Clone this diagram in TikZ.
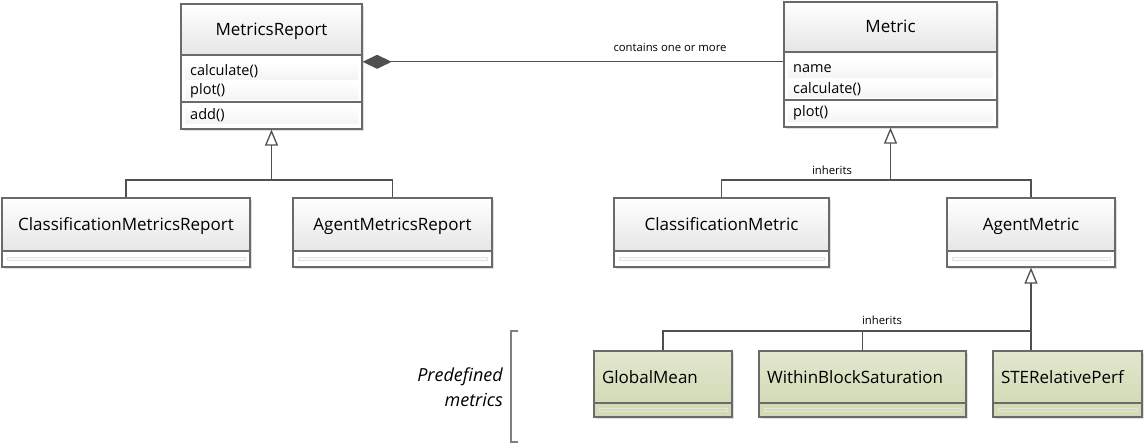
\documentclass[tikz,border=0pt]{standalone}
\usepackage{fontspec}
\setmainfont{Open Sans}
\usetikzlibrary{arrows.meta,shadows}
\definecolor{linegray}{HTML}{505050}
\definecolor{boxgray}{HTML}{6A6A6A}
\definecolor{headbot}{HTML}{E6E6E6}
\definecolor{greentop}{HTML}{E2E7CE}
\definecolor{greenbot}{HTML}{D2DBB6}
\tikzset{
  shade/.style={drop shadow={shadow xshift=2pt,shadow yshift=-2pt,opacity=0.25}},
  classhead/.style={draw=boxgray,line width=1.2pt,top color=white,bottom color=headbot,
    inner sep=0pt,text height=12pt,text depth=0pt,font=\fontsize{17}{19}\selectfont,shade},
  greenhead/.style={draw=boxgray,line width=1.2pt,top color=greentop,bottom color=greenbot,
    inner xsep=8pt,inner ysep=0pt,align=left,text height=12pt,text depth=0pt,
    font=\fontsize{17}{19}\selectfont,shade},
  classbody/.style={draw=boxgray,line width=1.2pt,fill=white,inner sep=0pt,shade},
  greenbody/.style={draw=boxgray,line width=1.2pt,fill=greenbot,inner sep=0pt,shade},
  row/.style={anchor=west,top color=white,bottom color=gray!9,inner xsep=5pt,inner ysep=0pt,
    minimum height=18pt,align=left,font=\fontsize{14.5}{16}\selectfont},
  strip/.style={draw=gray!22,fill=gray!4,line width=0.4pt,minimum height=3pt,inner sep=0pt},
  lbl/.style={font=\fontsize{11.3}{13}\selectfont,inner sep=1pt},
  assoc/.style={draw=linegray,line width=1.3pt},
  inherit/.style={assoc,-{Triangle[open,length=16pt,width=13pt,fill=white]}},
  compose/.style={assoc,{Diamond[length=29pt,width=14pt,fill=linegray]}-},
}
\begin{document}
\begin{tikzpicture}[x=1pt,y=-1pt]
	\useasboundingbox (0,0) rectangle (1146,446);
	% MetricsReport
	\path (271.5,29.5) node[classhead,minimum width=181,minimum height=51] (mr) {MetricsReport};
	\path (271.5,78.5) node[classbody,minimum width=181,minimum height=47] (mrattr) {};
	\path (271.5,115.5) node[classbody,minimum width=181,minimum height=27] (mrops) {};
	\path (185,71) node[row,text width=163] (mrcalc) {calculate()};
	\path (185,91) node[row,text width=163] (mrplot) {plot()};
	\path (185,115) node[row,text width=163] (mradd) {add()};
	% Metric
	\path (890.5,27) node[classhead,minimum width=213,minimum height=50] (met) {Metric};
	\path (890.5,76) node[classbody,minimum width=213,minimum height=48] (metattr) {};
	\path (890.5,113.5) node[classbody,minimum width=213,minimum height=27] (metops) {};
	\path (788,69) node[row,text width=195] (metname) {name};
	\path (788,89) node[row,text width=195] (metcalc) {calculate()};
	\path (788,113) node[row,text width=195] (metplot) {plot()};
	% report subclasses
	\path (126,224.5) node[classhead,minimum width=248,minimum height=53] (cmr) {ClassificationMetricsReport};
	\path (126,259) node[classbody,minimum width=248,minimum height=16] (cmrbody) {};
	\path (126,259) node[strip,minimum width=238] (cmrstrip) {};
	\path (392.5,224.5) node[classhead,minimum width=199,minimum height=53] (amr) {AgentMetricsReport};
	\path (392.5,259) node[classbody,minimum width=199,minimum height=16] (amrbody) {};
	\path (392.5,259) node[strip,minimum width=189] (amrstrip) {};
	% metric subclasses
	\path (721.5,224.5) node[classhead,minimum width=215,minimum height=53] (cm) {ClassificationMetric};
	\path (721.5,259) node[classbody,minimum width=215,minimum height=16] (cmbody) {};
	\path (721.5,259) node[strip,minimum width=205] (cmstrip) {};
	\path (1031,224.5) node[classhead,minimum width=168,minimum height=53] (am) {AgentMetric};
	\path (1031,259) node[classbody,minimum width=168,minimum height=16] (ambody) {};
	\path (1031,259) node[strip,minimum width=158] (amstrip) {};
	% predefined metrics
	\path (663,377) node[greenhead,text width=122,minimum height=52] (gm) {GlobalMean};
	\path (663,410) node[greenbody,minimum width=138,minimum height=14] (gmbody) {};
	\path (663,410) node[strip,minimum width=128,fill=greenbot] (gmstrip) {};
	\path (862.5,377) node[greenhead,text width=191,minimum height=52] (wbs) {WithinBlockSaturation};
	\path (862.5,410) node[greenbody,minimum width=207,minimum height=14] (wbsbody) {};
	\path (862.5,410) node[strip,minimum width=197,fill=greenbot] (wbsstrip) {};
	\path (1067.5,377) node[greenhead,text width=133,minimum height=52] (ste) {STERelativePerf};
	\path (1067.5,410) node[greenbody,minimum width=149,minimum height=14] (stebody) {};
	\path (1067.5,410) node[strip,minimum width=139,fill=greenbot] (stestrip) {};
	% connectors
	\draw[compose] (mrattr.east |- mrcalc.north) -- (metattr.west |- mrcalc.north);
	\path (670,47) node[lbl] (contains) {contains one or more};
	\coordinate (mrjoin) at (271.5,180);
	\draw[assoc] (cmr.north) |- (mrjoin);
	\draw[assoc] (amr.north) |- (mrjoin);
	\draw[inherit] (mrjoin) -- (mrops.south);
	\coordinate (metjoin) at (890.5,180);
	\draw[assoc] (cm.north) |- (metjoin);
	\draw[assoc] (am.north) |- (metjoin);
	\draw[inherit] (metjoin) -- (metops.south);
	\path (832,170) node[lbl] (inh1) {inherits};
	\coordinate (amjoin) at (1031,331);
	\draw[assoc] (gm.north) |- (amjoin);
	\draw[assoc] (wbs.north) |- (amjoin);
	\draw[assoc] (ste.north -| amjoin) -- (amjoin);
	\draw[inherit] (amjoin) -- (ambody.south);
	\path (882,320) node[lbl] (inh2) {inherits};
	% bracket
	\draw[draw=gray,line width=1.2pt] (518,331) -- (511,331) -- (511,442) -- (518,442);
	\path (503,387) node[anchor=east,align=right,inner sep=0pt,font=\fontsize{18}{25}\selectfont\itshape] (predef) {Predefined\\metrics};
\end{tikzpicture}
\end{document}
